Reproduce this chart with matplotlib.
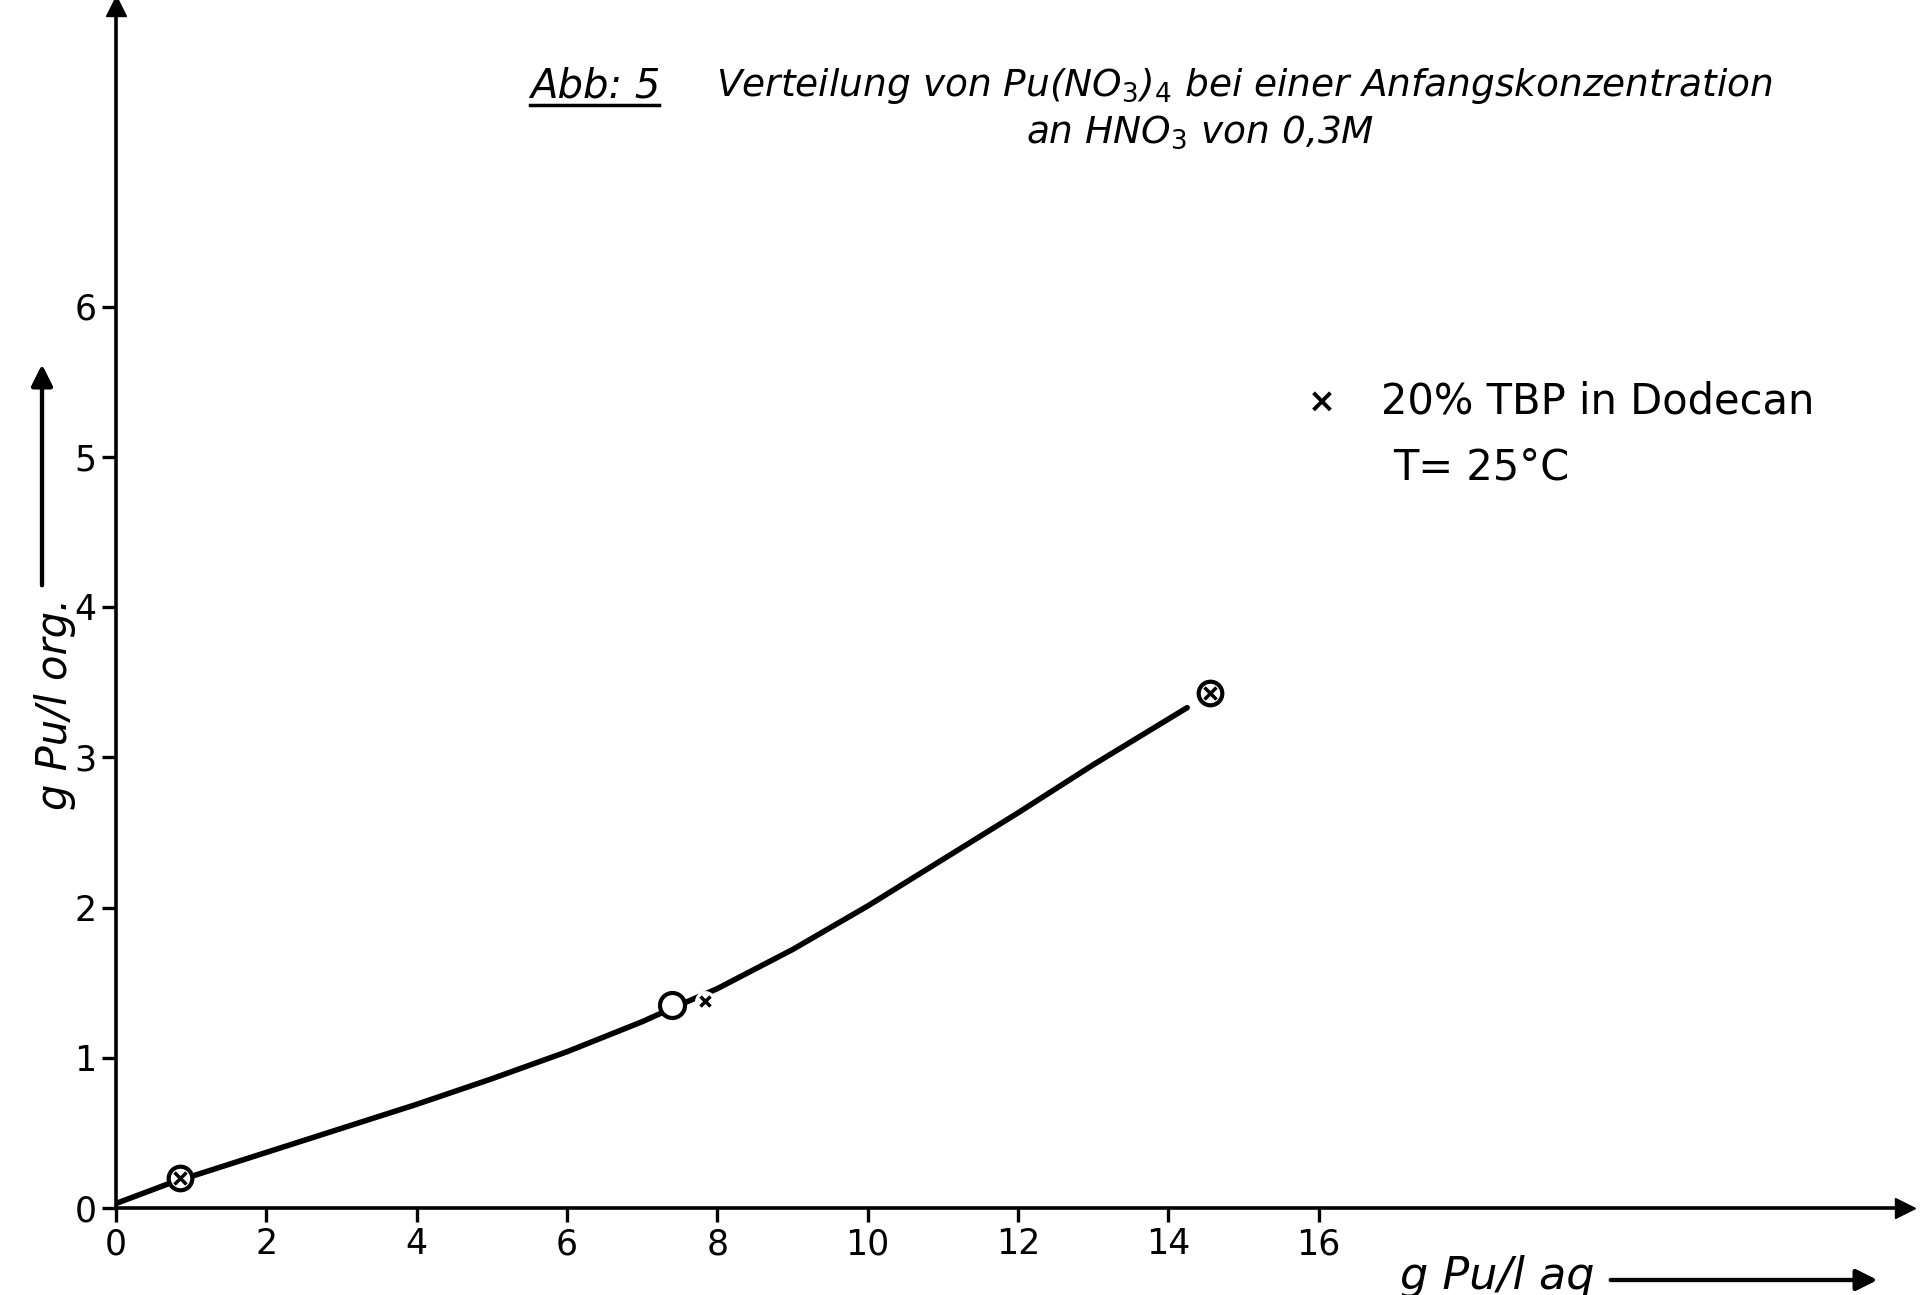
import numpy as np
import matplotlib.pyplot as plt
from matplotlib.lines import Line2D

curve_x = [0.0, 0.85, 1.0, 2.0, 3.0, 4.0, 5.0, 6.0, 7.0, 7.4,
           8.0, 9.0, 10.0, 11.0, 12.0, 13.0, 14.25]
curve_y = [0.03, 0.19, 0.21, 0.37, 0.53, 0.69, 0.86, 1.04, 1.24, 1.33,
           1.46, 1.72, 2.01, 2.32, 2.63, 2.95, 3.33]

circx_x = [0.85, 14.55]      # circle with cross inside
circx_y = [0.2, 3.43]
circ_x = [7.4]               # open circle
circ_y = [1.35]
cross_x = [7.83]             # plain cross
cross_y = [1.38]

xticks = [0, 2, 4, 6, 8, 10, 12, 14, 16]
yticks = [0, 1, 2, 3, 4, 5, 6]

fig = plt.figure(figsize=(19.2, 12.95), dpi=100)
ax = fig.add_axes([116 / 1920, 87 / 1295, 1789 / 1920, 1202 / 1295])
ax.set_xlim(0, 23.8)
ax.set_ylim(0, 8.0)

for s in ["top", "right"]:
    ax.spines[s].set_visible(False)
for s in ["left", "bottom"]:
    ax.spines[s].set_linewidth(2.6)

ax.set_xticks(xticks)
ax.set_yticks(yticks)
ax.tick_params(direction="out", length=10, width=2.4, labelsize=25, pad=4)

# axis arrow heads
ax.plot(1, 0, ">k", ms=14, transform=ax.get_yaxis_transform(), clip_on=False)
ax.plot(0.0, 1, "^k", ms=14, transform=ax.get_xaxis_transform(), clip_on=False)

# curve, broken at the markers
ax.plot(curve_x, curve_y, color="black", lw=4, solid_capstyle="round",
        solid_joinstyle="round", zorder=2)

ax.plot(circx_x, circx_y, "o", ms=17, mfc="white", mec="black", mew=3, zorder=3)
ax.plot(circx_x, circx_y, "x", ms=8, color="black", mew=2.5, zorder=4)
ax.plot(circ_x, circ_y, "o", ms=18, mfc="white", mec="black", mew=3, zorder=3)
ax.plot(cross_x, cross_y, "o", ms=14, mfc="white", mec="white", zorder=3)
ax.plot(cross_x, cross_y, "x", ms=7, color="black", mew=2.5, zorder=4)

# title
fig.text(530 / 1920, 1 - 86 / 1295, "Abb: 5", fontsize=29, style="italic",
         ha="left", va="center")
fig.add_artist(Line2D([530 / 1920, 659 / 1920], [1 - 105 / 1295, 1 - 105 / 1295],
                      color="black", lw=2.5))
fig.text(716 / 1920, 1 - 86 / 1295,
         r"Verteilung von Pu(NO$_3$)$_4$ bei einer Anfangskonzentration",
         fontsize=27, style="italic", ha="left", va="center")
fig.text(1200 / 1920, 1 - 132 / 1295, r"an HNO$_3$ von 0,3M",
         fontsize=27, style="italic", ha="center", va="center")

# legend text
fig.text(1322 / 1920, 1 - 402 / 1295, "×", fontsize=24, weight="bold",
         ha="center", va="center")
fig.text(1381 / 1920, 1 - 402 / 1295, "20% TBP in Dodecan", fontsize=30,
         ha="left", va="center")
fig.text(1393 / 1920, 1 - 467 / 1295, "T= 25°C", fontsize=30,
         ha="left", va="center")

# axis labels with arrows
fig.text(55 / 1920, 1 - 704 / 1295, "g Pu/l org.", fontsize=30, rotation=90,
         style="italic", ha="center", va="center")
fig.add_artist(plt.annotate("", xy=(42 / 1920, 1 - 362 / 1295),
                            xytext=(42 / 1920, 1 - 588 / 1295),
                            xycoords="figure fraction",
                            arrowprops=dict(arrowstyle="-|>", lw=3, color="black",
                                            mutation_scale=32)))
fig.text(1400 / 1920, 1 - 1277 / 1295, "g Pu/l aq", fontsize=32, style="italic",
         ha="left", va="center")
fig.add_artist(plt.annotate("", xy=(1880 / 1920, 1 - 1280 / 1295),
                            xytext=(1608 / 1920, 1 - 1280 / 1295),
                            xycoords="figure fraction",
                            arrowprops=dict(arrowstyle="-|>", lw=3, color="black",
                                            mutation_scale=32)))

fig.savefig("out.png", dpi=100)
